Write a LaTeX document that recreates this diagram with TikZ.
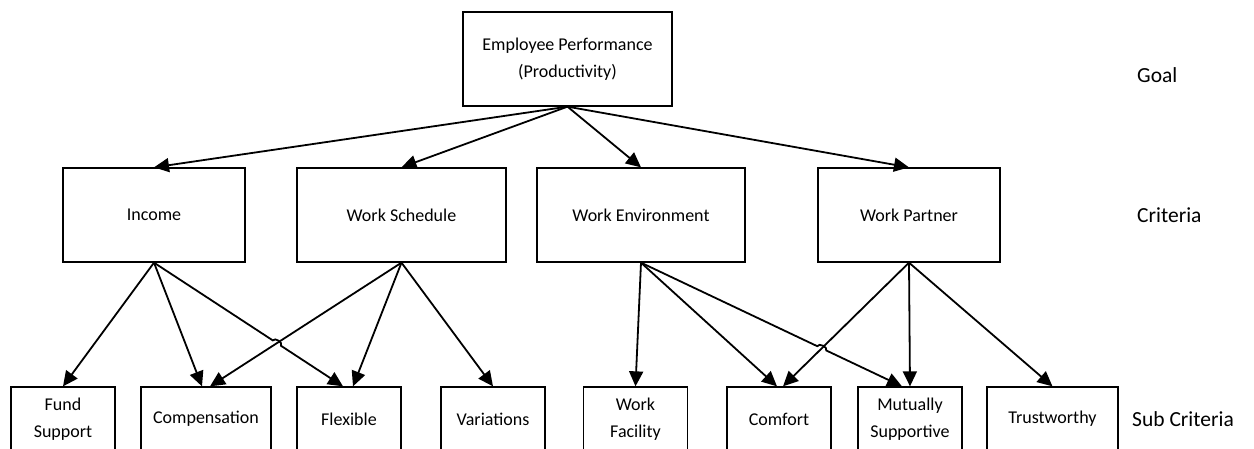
\documentclass[tikz,border=0pt]{standalone}
\usepackage{fontspec}
\setmainfont{Carlito}
\usetikzlibrary{arrows.meta,calc,intersections}

\begin{document}
\begin{tikzpicture}[x=1pt,y=1pt,
  box/.style={draw,line width=1.3pt,minimum height=94pt,inner sep=0pt,align=center,font=\fontsize{18}{27}\selectfont},
  sub/.style={draw,line width=1.3pt,minimum height=64pt,minimum width=104pt,inner sep=0pt,align=center,font=\fontsize{18}{27}\selectfont},
  lev/.style={anchor=west,inner sep=0pt,font=\fontsize{21.5}{26}\selectfont},
  arr/.style={line width=1.8pt,-{Triangle[length=15pt,width=14pt]}}]
\clip (0,0) rectangle (1254,-448);
\node[box,minimum width=209pt] (goal) at (567.5,-59) {Employee Performance\\(Productivity)};
\node[box,minimum width=182pt] (inc) at (154,-215) {Income};
\node[box,minimum width=209pt] (ws) at (401.5,-215) {Work Schedule};
\node[box,minimum width=208pt] (we) at (641,-215) {Work Environment};
\node[box,minimum width=182pt] (wp) at (909,-215) {Work Partner};
\node[sub] (fund) at (63,-419) {Fund\\Support};
\node[sub,minimum width=130pt] (comp) at (206,-419) {Compensation};
\node[sub] (flex) at (349,-419) {Flexible};
\node[sub] (var) at (493,-419) {Variations};
\node[sub] (fac) at (635.5,-419) {Work\\Facility};
\node[sub] (comf) at (779,-419) {Comfort};
\node[sub] (mut) at (910,-419) {Mutually\\Supportive};
\node[sub,minimum width=131pt] (trust) at (1052.5,-419) {Trustworthy};
\node[lev] (lgoal) at (1137,-75) {Goal};
\node[lev] (lcrit) at (1137,-215) {Criteria};
\node[lev] (lsub) at (1132,-419) {Sub Criteria};
\foreach \t in {inc,ws,we,wp}
  \draw[arr] (goal.south) -- (\t.north);
\draw[arr] (inc.south) -- (fund.north);
\draw[arr] (inc.south) -- ([xshift=-4pt]comp.north);
\draw[arr] (ws.south) -- ([xshift=4pt]comp.north);
\draw[arr] (ws.south) -- ([xshift=4pt]flex.north);
\draw[arr] (ws.south) -- (var.north);
\draw[arr] (we.south) -- (fac.north);
\draw[arr] (we.south) -- ([xshift=-2pt]comf.north);
\draw[arr] (wp.south) -- ([xshift=4pt]comf.north);
\draw[arr] (wp.south) -- (mut.north);
\draw[arr] (wp.south) -- (trust.north);
\path[name path=l1] (inc.south) -- ([xshift=-6pt]flex.north);
\path[name path=l2] (ws.south) -- ([xshift=4pt]comp.north);
\path[name intersections={of=l1 and l2,by=h1}];
\draw[arr] (inc.south) -- ($(h1)!5pt!(inc.south)$) to[bend left=90] ($(h1)!5pt!([xshift=-6pt]flex.north)$) -- ([xshift=-6pt]flex.north);
\path[name path=l3] (we.south) -- ([xshift=-8pt]mut.north);
\path[name path=l4] (wp.south) -- ([xshift=4pt]comf.north);
\path[name intersections={of=l3 and l4,by=h2}];
\draw[arr] (we.south) -- ($(h2)!5pt!(we.south)$) to[bend left=90] ($(h2)!5pt!([xshift=-8pt]mut.north)$) -- ([xshift=-8pt]mut.north);
\end{tikzpicture}
\end{document}
